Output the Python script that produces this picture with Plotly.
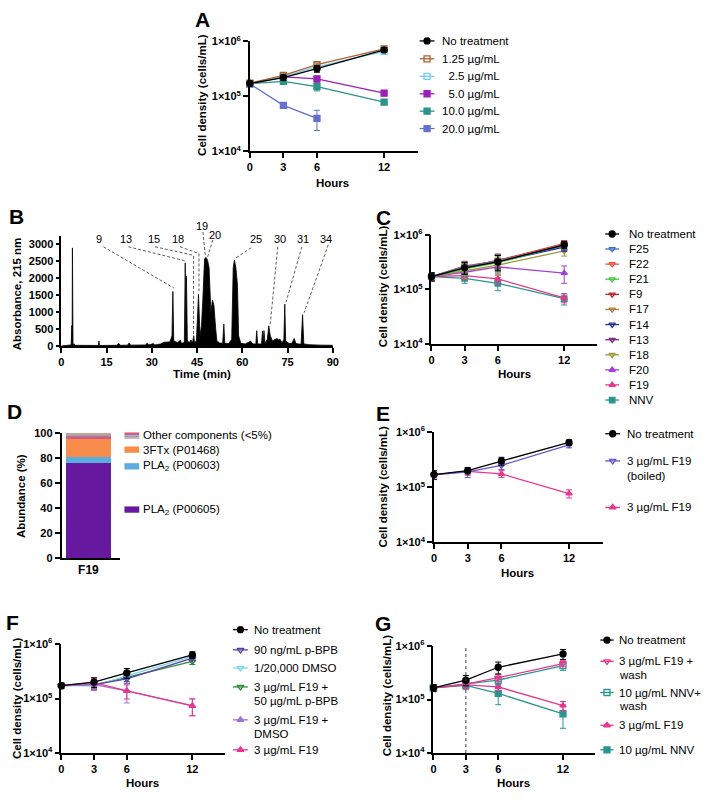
import plotly.graph_objects as go

W, H = 709, 801
FONT = "Liberation Sans"

# ---------------- data ----------------
hours = [0, 3, 6, 12]
hours_short = [0, 3, 6]

# Panel A
A_names = ["No treatment", "1.25 µg/mL", "\u00a0\u00a02.5 µg/mL", "\u00a0\u00a05.0 µg/mL", "10.0 µg/mL", "20.0 µg/mL"]
A_nt = [1.72e5, 2.20e5, 3.20e5, 7.0e5]
A_nt_err = [1.8e4, 2.5e4, 4.5e4, 6e4]
A_c125 = [1.75e5, 2.42e5, 3.78e5, 7.3e5]
A_c125_err = [1.5e4, 2.5e4, 3e4, 5e4]
A_c25 = [1.70e5, 2.30e5, 3.45e5, 6.6e5]
A_c25_err = [1.5e4, 2e4, 3e4, 4e4]
A_c50 = [1.70e5, 2.27e5, 2.08e5, 1.15e5]
A_c50_err = [1.5e4, 2e4, 2.5e4, 1.2e4]
A_c100 = [1.70e5, 1.87e5, 1.51e5, 7.9e4]
A_c100_err = [1.5e4, 1.5e4, 2.5e4, 8e3]
A_c200 = [1.70e5, 6.9e4, 4.0e4]
A_c200_err = [1.5e4, 8e3, 1.6e4]

# Panel B chromatogram (time in min, absorbance 215 nm)
B_time = [0, 2.0, 3.0, 3.3, 3.5, 3.6, 3.7, 3.9, 4.3, 4.5, 8, 12.3, 12.5, 12.7, 18.5, 19, 19.6,
          22, 22.5, 23, 28, 28.5, 29, 30.5, 31, 33, 34, 36, 36.7, 37.0, 37.3, 38.5, 39.5, 39.8,
          40.8, 41.1, 41.3, 41.5, 41.8, 42.5, 43, 43.5, 43.9, 44.2, 44.8, 45.5, 46, 46.5, 47,
          47.5, 48, 48.5, 49, 49.3, 49.6, 50.1, 50.6, 51.2, 51.6, 52.5, 53.5, 53.9, 54.2, 55.5,
          56.5, 57.0, 57.4, 57.9, 58.4, 58.8, 59.5, 61, 62.2, 62.8, 63.5, 64.5, 64.8, 65.1, 66.4,
          66.7, 66.9, 67.2, 67.5, 68.3, 68.8, 69.3, 70, 71, 71.5, 72, 72.5, 73.2, 73.8, 74.1,
          74.4, 75.5, 76.5, 77.2, 77.8, 79.5, 80.0, 80.4, 82, 86, 90]
B_abs = [0, 10, 30, 40, 600, 30, 2880, 40, 60, 20, 15, 15, 150, 15, 20, 80, 20,
         25, 90, 25, 30, 90, 30, 70, 30, 60, 110, 120, 300, 1600, 150, 100, 170, 80,
         100, 2440, 300, 2050, 150, 100, 180, 80, 300, 100, 150, 1510, 300, 600, 1500,
         2560, 2600, 2520, 2300, 1500, 1000, 1350, 1200, 500, 150, 90, 80, 640, 80, 70,
         200, 2300, 2520, 2300, 1800, 300, 80, 60, 120, 140, 60, 60, 450, 60, 60,
         440, 100, 450, 80, 200, 590, 300, 150, 200, 220, 180, 200, 90, 200, 1230,
         150, 70, 80, 220, 70, 50, 920, 60, 40, 25, 20]
B_peak_labels = ["9", "13", "15", "18", "19", "20", "25", "30", "31", "34"]

# Panel C
C_names = ["No treatment", "F25", "F22", "F21", "F9", "F17", "F14", "F13", "F18", "F20", "F19", "NNV"]
C_nt = [1.73e5, 2.50e5, 3.20e5, 6.6e5]
C_f25 = [1.73e5, 2.60e5, 3.30e5, 6.3e5]
C_f22 = [1.73e5, 2.65e5, 3.35e5, 6.8e5]
C_f21 = [1.73e5, 2.40e5, 3.10e5, 6.5e5]
C_f9 = [1.73e5, 2.55e5, 3.40e5, 6.9e5]
C_f17 = [1.73e5, 2.70e5, 3.30e5, 6.4e5]
C_f14 = [1.73e5, 2.45e5, 3.20e5, 6.0e5]
C_f13 = [1.73e5, 2.50e5, 3.45e5, 6.2e5]
C_f18 = [1.73e5, 2.20e5, 2.80e5, 5.1e5]
C_f20 = [1.73e5, 2.07e5, 2.60e5, 2.0e5]
C_f19 = [1.73e5, 1.80e5, 1.56e5, 7.0e4]
C_nnv = [1.73e5, 1.60e5, 1.30e5, 6.8e4]
C_err_high = [3e4, 6e4, 1.0e5, 1.0e5]
C_f20_err = [3e4, 4e4, 6e4, 7e4]
C_f19_err = [3e4, 3e4, 3e4, 1.3e4]
C_nnv_err = [3e4, 3e4, 3.5e4, 1.6e4]

# Panel D
D_category = ["F19"]
D_names = ["PLA<sub>2</sub> (P00605)", "PLA<sub>2</sub> (P00603)", "3FTx (P01468)",
           "Other 1", "Other 2", "Other 3", "Other 4", "Other 5"]
D_values = [76.4, 4.8, 14.5, 1.2, 0.9, 0.8, 0.8, 0.6]

# Panel E
E_names = ["No treatment", "3 µg/mL F19<br>(boiled)", "3 µg/mL F19"]
E_nt = [1.70e5, 2.00e5, 3.00e5, 6.5e5]
E_nt_err = [3e4, 2.5e4, 5e4, 7e4]
E_boiled = [1.68e5, 1.90e5, 2.50e5, 5.9e5]
E_boiled_err = [3e4, 4e4, 4e4, 7e4]
E_f19 = [1.70e5, 1.95e5, 1.75e5, 7.7e4]
E_f19_err = [2e4, 3e4, 2.5e4, 1.3e4]

# Panel F
F_names = ["No treatment", "90 ng/mL p-BPB", "1/20,000 DMSO", "3 µg/mL F19 +<br>50 µg/mL p-BPB",
           "3 µg/mL F19 +<br>DMSO", "3 µg/mL F19"]
F_nt = [1.72e5, 2.00e5, 2.95e5, 6.3e5]
F_nt_err = [2e4, 4e4, 6e4, 9e4]
F_pbpb = [1.72e5, 1.80e5, 2.30e5, 5.5e5]
F_pbpb_err = [2e4, 3e4, 4e4, 6e4]
F_dmso = [1.72e5, 1.70e5, 2.60e5, 5.9e5]
F_dmso_err = [2e4, 3e4, 4e4, 6e4]
F_f19_pbpb = [1.72e5, 1.78e5, 2.45e5, 4.8e5]
F_f19_pbpb_err = [2e4, 3e4, 4e4, 6e4]
F_f19_dmso = [1.72e5, 1.80e5, 1.38e5, 7.4e4]
F_f19_dmso_err = [2e4, 4e4, 5.5e4, 2.5e4]
F_f19 = [1.72e5, 1.95e5, 1.38e5, 7.3e4]
F_f19_err = [2e4, 4e4, 4e4, 2.5e4]

# Panel G
G_names = ["No treatment", "3 µg/mL F19 +<br>wash", "10 µg/mL NNV+<br>wash", "3 µg/mL F19", "10 µg/mL NNV"]
G_nt = [1.65e5, 2.30e5, 4.00e5, 7.1e5]
G_nt_err = [2.5e4, 5e4, 1.0e5, 1.5e5]
G_f19_wash = [1.65e5, 1.93e5, 2.55e5, 4.7e5]
G_f19_wash_err = [2e4, 3e4, 4e4, 6e4]
G_nnv_wash = [1.65e5, 1.95e5, 2.30e5, 4.3e5]
G_nnv_wash_err = [2e4, 3e4, 4e4, 8e4]
G_f19 = [1.65e5, 1.88e5, 1.72e5, 7.7e4]
G_f19_err = [2e4, 3e4, 2.5e4, 1.5e4]
G_nnv = [1.65e5, 1.83e5, 1.30e5, 5.4e4]
G_nnv_err = [2e4, 3e4, 5e4, 2.5e4]
G_wash_time = 3

log_tickvals = [1e4, 1e5, 1e6]
log_ticktext = ["1×10<sup>4</sup>", "1×10<sup>5</sup>", "1×10<sup>6</sup>"]

# ---------------- colours ----------------
BLACK = "#000000"
PINK = "#E8368F"
TEAL = "#2A968C"

# ---------------- helpers ----------------
fig = go.Figure()


def px(x):
    return x / W


def py(y):
    return 1 - y / H


def dom_x(a, b):
    return [a / W, b / W]


def dom_y(top, bottom):
    return [1 - bottom / H, 1 - top / H]


def add_series(ax, xs, ys, err, color, symbol, size=6, lw=1.3):
    fig.add_trace(go.Scatter(
        x=xs, y=ys, mode="lines+markers", xaxis="x" + ax, yaxis="y" + ax,
        line=dict(color=color, width=lw),
        marker=dict(symbol=symbol, size=size, color=color, line=dict(color=color, width=1.3)),
        error_y=dict(type="data", array=err, visible=True, color=color, thickness=1, width=3),
        cliponaxis=False, showlegend=False, hoverinfo="skip"))


def legend_entry(x0, x1, xt, y, lines_y, text, color, symbol, size=6):
    fig.add_trace(go.Scatter(x=[x0, x1], y=[y, y], mode="lines", xaxis="x8", yaxis="y8",
                             line=dict(color=color, width=1.3), showlegend=False, hoverinfo="skip"))
    fig.add_trace(go.Scatter(x=[(x0 + x1) / 2], y=[y], mode="markers", xaxis="x8", yaxis="y8",
                             marker=dict(symbol=symbol, size=size, color=color,
                                         line=dict(color=color, width=1.3)),
                             showlegend=False, hoverinfo="skip"))
    for ln, yy in zip(text.split("<br>"), lines_y):
        fig.add_annotation(x=px(xt), y=py(yy), xref="paper", yref="paper", text=ln,
                           xanchor="left", yanchor="middle", showarrow=False,
                           font=dict(size=11.5, color="black", family=FONT))


def label(x, y, text, size=11.5, angle=0, bold=True, anchor="center"):
    fig.add_annotation(x=px(x), y=py(y), xref="paper", yref="paper",
                       text=("<b>%s</b>" % text) if bold else text,
                       xanchor=anchor, yanchor="middle", showarrow=False, textangle=angle,
                       font=dict(size=size, color="black", family=FONT))


axis_common = dict(showline=True, linecolor="black", linewidth=1.5, ticks="outside",
                   tickwidth=1.5, ticklen=5, tickcolor="black", showgrid=False, zeroline=False,
                   tickfont=dict(size=11, color="black", family=FONT, weight="bold"))


def time_axis(dx):
    d = dict(axis_common)
    d.update(domain=dom_x(*dx), range=[0, 15], tickmode="array", tickvals=hours)
    return d


def log_axis(dy, anchor):
    d = dict(axis_common)
    d.update(domain=dom_y(*dy), type="log", range=[4, 6], tickmode="array",
             tickvals=log_tickvals, ticktext=log_ticktext, anchor=anchor)
    return d


# ---------------- Panel A ----------------
add_series("", hours_short, A_c200, A_c200_err, "#6470CC", "square")
add_series("", hours, A_c100, A_c100_err, "#2A9486", "square")
add_series("", hours, A_c50, A_c50_err, "#9B1FB8", "square")
add_series("", hours, A_c25, A_c25_err, "#6FCFEF", "square-open")
add_series("", hours, A_c125, A_c125_err, "#B0602F", "square-open")
add_series("", hours, A_nt, A_nt_err, BLACK, "circle")

# ---------------- Panel B ----------------
fig.add_trace(go.Scatter(x=B_time, y=B_abs, mode="lines", fill="tozeroy", xaxis="x2", yaxis="y2",
                         line=dict(color="black", width=0.8), fillcolor="black",
                         showlegend=False, hoverinfo="skip"))

# ---------------- Panel C ----------------
C_styles = [
    (C_nt, C_err_high, BLACK, "circle"),
    (C_f25, C_err_high, "#3C6FC8", "triangle-down-open"),
    (C_f22, C_err_high, "#F0503C", "triangle-down-open"),
    (C_f21, C_err_high, "#44C73A", "triangle-down-open"),
    (C_f9, C_err_high, "#B0282A", "triangle-down-open"),
    (C_f17, C_err_high, "#B07A3C", "triangle-down-open"),
    (C_f14, C_err_high, "#283090", "triangle-down-open"),
    (C_f13, C_err_high, "#7A2C7E", "triangle-down-open"),
    (C_f18, C_err_high, "#9A9A38", "triangle-down-open"),
    (C_f20, C_f20_err, "#A040D8", "triangle-up"),
    (C_f19, C_f19_err, PINK, "triangle-up"),
    (C_nnv, C_nnv_err, TEAL, "square"),
]
for vals, err, col, sym in reversed(C_styles):
    add_series("3", hours, vals, err, col, sym, size=5.5 if sym != "circle" else 6)

# ---------------- Panel D ----------------
D_colors = ["#66189E", "#5AAEDF", "#F78C4B", "#E0557A", "#8E7FA8", "#C98FA8", "#A8A8A8", "#C0A878"]
for name, v, c in zip(D_names, D_values, D_colors):
    fig.add_trace(go.Bar(x=D_category, y=[v], name=name, marker=dict(color=c, line=dict(width=0)),
                         width=[1.0], xaxis="x4", yaxis="y4", showlegend=False, hoverinfo="skip"))

# ---------------- Panel E ----------------
add_series("5", hours, E_f19, E_f19_err, PINK, "triangle-up", size=5.5)
add_series("5", hours, E_boiled, E_boiled_err, "#6A52CC", "triangle-down-open")
add_series("5", hours, E_nt, E_nt_err, BLACK, "circle")

# ---------------- Panel F ----------------
add_series("6", hours, F_f19_pbpb, F_f19_pbpb_err, "#2E8B3C", "triangle-down-open")
add_series("6", hours, F_dmso, F_dmso_err, "#80D6E6", "triangle-down-open")
add_series("6", hours, F_pbpb, F_pbpb_err, "#5A3FA5", "triangle-down-open")
add_series("6", hours, F_f19_dmso, F_f19_dmso_err, "#9B74DC", "triangle-up", size=5.5)
add_series("6", hours, F_f19, F_f19_err, PINK, "triangle-up", size=5.5)
add_series("6", hours, F_nt, F_nt_err, BLACK, "circle")

# ---------------- Panel G ----------------
add_series("7", hours, G_nnv, G_nnv_err, TEAL, "square")
add_series("7", hours, G_f19, G_f19_err, PINK, "triangle-up", size=5.5)
add_series("7", hours, G_nnv_wash, G_nnv_wash_err, TEAL, "square-open")
add_series("7", hours, G_f19_wash, G_f19_wash_err, PINK, "triangle-down-open")
add_series("7", hours, G_nt, G_nt_err, BLACK, "circle")
fig.add_shape(type="line", xref="x7", yref="y7 domain", x0=G_wash_time, x1=G_wash_time, y0=0, y1=1,
              line=dict(color="#444444", width=1, dash="dot"))

# ---------------- legends (drawn manually) ----------------
A_leg = [(BLACK, "circle"), ("#B0602F", "square-open"), ("#6FCFEF", "square-open"),
         ("#9B1FB8", "square"), ("#2A9486", "square"), ("#6470CC", "square")]
A_rows = [33.5, 51.7, 69.5, 87.3, 105, 122.7]
for (col, sym), name, y in zip(A_leg, A_names, A_rows):
    legend_entry(422, 437, 443, y, [y], name, col, sym)

C_rows = [230, 245.3, 260.7, 276, 291.5, 306.8, 322.2, 337.6, 353, 368.3, 383.6, 399]
for (vals, err, col, sym), name, y in zip(C_styles, C_names, C_rows):
    legend_entry(610, 624, 632, y, [y], name, col, sym, size=5.5 if sym != "circle" else 6)

E_leg = [(BLACK, "circle", 433.3, [433.3]), ("#6A52CC", "triangle-down-open", 461, [461, 476]),
         (PINK, "triangle-up", 508.3, [508.3])]
for (col, sym, y, ly), name in zip(E_leg, E_names):
    legend_entry(610, 625, 630, y, ly, name, col, sym)

F_leg = [(BLACK, "circle", 632.7, [632.7]), ("#5A3FA5", "triangle-down-open", 653.3, [653.3]),
         ("#80D6E6", "triangle-down-open", 671.7, [671.7]),
         ("#2E8B3C", "triangle-down-open", 691, [691, 705]),
         ("#9B74DC", "triangle-up", 724.5, [724.5, 738.5]), (PINK, "triangle-up", 755, [755])]
for (col, sym, y, ly), name in zip(F_leg, F_names):
    legend_entry(233, 248, 252.5, y, ly, name, col, sym)

G_leg = [(BLACK, "circle", 643.3, [643.3]), (PINK, "triangle-down-open", 665, [665, 678.5]),
         (TEAL, "square-open", 696.7, [696.7, 710.2]), (PINK, "triangle-up", 730, [730]),
         (TEAL, "square", 755, [755])]
for (col, sym, y, ly), name in zip(G_leg, G_names):
    legend_entry(605, 618.5, 622, y, ly, name, col, sym)

# D legend swatches
D_leg_rows = [(2, 449.5), (1, 466.5), (0, 510.5)]
for idx, y in D_leg_rows:
    fig.add_shape(type="rect", xref="x8", yref="y8", x0=123, x1=138, y0=y - 3.2, y1=y + 3.2,
                  fillcolor=D_colors[idx], line=dict(width=0))
    label(140, y, D_names[idx], size=11.5, bold=False, anchor="left")
stripe_cols = D_colors[3:7]
for i, c in enumerate(stripe_cols):
    fig.add_shape(type="rect", xref="x8", yref="y8", x0=123, x1=138, y0=432 + i * 1.6,
                  y1=432 + (i + 1) * 1.6, fillcolor=c, line=dict(width=0))
label(140, 434.5, "Other components (<5%)", size=11.5, bold=False, anchor="left")

# B peak labels and dashed leaders (annotation geometry in pixels)
B_label_pos = [(97.7, 235), (124.5, 235), (153, 235), (177, 235), (201.5, 222),
               (214.3, 231), (256.5, 235), (280.5, 235), (303.5, 235), (327.5, 235)]
for t, (x, y) in zip(B_peak_labels, B_label_pos):
    label(x, y, t, size=11, bold=False)
leaders = [
    [(101.7, 243), (173, 285)],
    [(127, 243), (185, 257.5)],
    [(154, 243), (193, 251.7), (193, 336.7)],
    [(179.3, 243), (198.5, 250), (198.5, 288)],
    [(202.5, 228), (205, 253.3)],
    [(212.5, 236), (207.3, 253.3)],
    [(251.5, 244), (235, 255)],
    [(278.3, 243), (270.7, 321.7)],
    [(302.7, 243), (286.7, 299.3)],
    [(329.5, 241), (305, 310)],
]
lx, ly = [], []
for seg in leaders:
    for (a, b) in seg:
        lx.append(a)
        ly.append(b)
    lx.append(None)
    ly.append(None)
fig.add_trace(go.Scatter(x=lx, y=ly, mode="lines", xaxis="x8", yaxis="y8",
                         line=dict(color="#333333", width=0.8, dash="3px,2px"),
                         showlegend=False, hoverinfo="skip"))

# ---------------- titles and panel letters ----------------
for t, x, y in [("A", 202.5, 11.5), ("B", 13.5, 212.5), ("C", 385, 213.5), ("D", 11.5, 410.5),
                ("E", 385, 412.5), ("F", 10, 625.5), ("G", 385, 626.5)]:
    label(x, y, t, size=21)

label(334, 178, "Hours")
label(518, 373, "Hours")
label(521.5, 575, "Hours")
label(141.5, 789, "Hours")
label(517, 789, "Hours")
label(201.5, 373, "Time (min)")
for x, y in [(202, 88), (385, 283), (385, 487), (13.5, 702), (388.5, 700)]:
    label(x, y, "Cell density (cells/mL)", angle=-90)
label(15, 291.5, "Absorbance, 215 nm", angle=-90)
label(18.5, 496.5, "Abundance (%)", angle=-90)

# ---------------- layout ----------------
ax_B_x = dict(axis_common)
ax_B_x.update(domain=dom_x(59, 334), range=[0, 90], tickmode="array",
              tickvals=[0, 15, 30, 45, 60, 75, 90], anchor="y2")
ax_B_y = dict(axis_common)
ax_B_y.update(domain=dom_y(232, 344), range=[0, 3230], tickmode="array",
              tickvals=[0, 500, 1000, 1500, 2000, 2500, 3000], anchor="x2", ticklen=4)
ax_D_x = dict(axis_common)
ax_D_x.update(domain=dom_x(59.3, 118.3), range=[-0.6, 0.7], type="category", ticks="",
              anchor="y4", tickfont=dict(size=12, color="black", family=FONT, weight="bold"))
ax_D_y = dict(axis_common)
ax_D_y.update(domain=dom_y(432.7, 560), range=[0, 100], tickmode="array",
              tickvals=[0, 20, 40, 60, 80, 100], anchor="x4")

xa = time_axis((250, 420)); xa.update(anchor="y")
x3 = time_axis((434, 602)); x3.update(anchor="y3")
x5 = time_axis((436.5, 607.5)); x5.update(anchor="y5")
x6 = time_axis((59, 225)); x6.update(anchor="y6")
x7 = time_axis((436, 600)); x7.update(anchor="y7")

fig.update_layout(
    width=W, height=H, margin=dict(l=0, r=0, t=0, b=0), autosize=False,
    paper_bgcolor="white", plot_bgcolor="rgba(0,0,0,0)",
    font=dict(family=FONT, color="black"),
    barmode="stack", showlegend=False,
    xaxis=xa, yaxis=log_axis((34, 146), "x"),
    xaxis2=ax_B_x, yaxis2=ax_B_y,
    xaxis3=x3, yaxis3=log_axis((231, 342), "x3"),
    xaxis4=ax_D_x, yaxis4=ax_D_y,
    xaxis5=x5, yaxis5=log_axis((431.7, 544), "x5"),
    xaxis6=x6, yaxis6=log_axis((647.3, 758.3), "x6"),
    xaxis7=x7, yaxis7=log_axis((649.3, 758.3), "x7"),
    xaxis8=dict(domain=[0, 1], range=[0, W], visible=False, fixedrange=True, anchor="y8"),
    yaxis8=dict(domain=[0, 1], range=[H, 0], visible=False, fixedrange=True, anchor="x8"),
)

fig.write_html("out.html", config={"displayModeBar": False},
               post_script="document.body.style.margin='0';")
